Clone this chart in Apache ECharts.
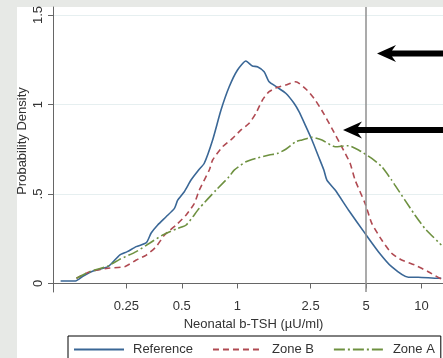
<!DOCTYPE html>
<html>
<head>
<meta charset="utf-8">
<script src="https://cdn.jsdelivr.net/npm/echarts@6/dist/echarts.min.js"></script>
<style>
html,body{margin:0;padding:0;background:#e7e9e6;}
#chart{width:443px;height:358px;}
</style>
</head>
<body>
<div id="chart"></div>
<script>
// Data (x = neonatal b-TSH µU/ml, y = density)
var xTicks = [0.25, 0.5, 1, 2.5, 5, 10];
var yTicks = [0, 0.5, 1, 1.5];
var cutoff = 5;

var referenceData = [
  [0.110,0.014],[0.1325,0.014],[0.146,0.042],[0.165,0.070],[0.199,0.094],[0.230,0.159],
  [0.253,0.178],[0.283,0.206],[0.321,0.228],[0.341,0.282],[0.370,0.327],[0.411,0.373],
  [0.456,0.420],[0.475,0.466],[0.516,0.513],[0.561,0.578],[0.617,0.634],[0.662,0.672],
  [0.735,0.802],[0.816,0.969],[0.904,1.099],[1.003,1.193],[1.114,1.243],[1.208,1.215],
  [1.286,1.211],[1.399,1.183],[1.489,1.127],[1.651,1.096],[1.833,1.063],[2.032,1.007],
  [2.163,0.960],[2.339,0.885],[2.543,0.802],[2.763,0.708],[2.95,0.634],[3.064,0.578],
  [3.398,0.522],[4.012,0.411],[4.935,0.280],[5.83,0.178],[6.88,0.094],[8.48,0.035],
  [9.59,0.035],[12.31,0.029],[12.8,0.029]
];
var zoneBData = [
  [0.134,0.029],[0.158,0.066],[0.199,0.085],[0.245,0.094],[0.283,0.131],[0.321,0.159],
  [0.363,0.206],[0.403,0.271],[0.466,0.327],[0.528,0.383],[0.585,0.448],[0.622,0.522],
  [0.705,0.634],[0.735,0.690],[0.832,0.764],[0.942,0.811],[1.047,0.858],[1.16,0.895],
  [1.262,0.951],[1.369,1.025],[1.489,1.072],[1.651,1.096],[1.833,1.109],[2.075,1.127],
  [2.388,1.081],[2.649,1.025],[2.94,0.951],[3.26,0.867],[3.69,0.764],[4.095,0.672],
  [4.36,0.578],[4.935,0.448],[5.37,0.336],[6.08,0.243],[6.88,0.169],[7.80,0.131],
  [9.20,0.103],[10.87,0.066],[12.56,0.029],[12.8,0.027]
];
var zoneAData = [
  [0.134,0.029],[0.158,0.066],[0.199,0.098],[0.230,0.135],[0.283,0.178],[0.334,0.225],
  [0.394,0.271],[0.475,0.308],[0.528,0.327],[0.622,0.420],[0.767,0.522],[0.904,0.597],
  [0.962,0.634],[1.114,0.680],[1.262,0.699],[1.489,0.718],[1.651,0.727],[1.833,0.750],
  [2.075,0.792],[2.244,0.802],[2.543,0.817],[2.88,0.802],[3.398,0.764],[4.012,0.770],
  [4.55,0.746],[5.37,0.699],[6.08,0.653],[6.88,0.578],[7.17,0.550],[8.12,0.466],
  [9.20,0.383],[10.42,0.308],[12.8,0.215]
];
var seriesNames = ['Reference', 'Zone B', 'Zone A'];

var FONT = 'Liberation Sans, Arial, sans-serif';
var chart = echarts.init(document.getElementById('chart'), null, {renderer: 'canvas'});

function fmtX(v){ return String(+Number(v).toPrecision(3)); }
function fmtY(v){ v = +Number(v).toFixed(2); if (v === 0) return '0'; var s = String(v); return s.charAt(0) === '0' ? s.slice(1) : s; }

var option = {
  animation: false,
  backgroundColor: '#e7e9e6',
  textStyle: {fontFamily: FONT},
  graphic: [
    {type: 'rect', z: -10, silent: true, shape: {x: 17, y: 7, width: 430, height: 355}, style: {fill: '#ffffff'}},
    {type: 'polygon', z: 100, silent: true, shape: {points: [[377,53.5],[396,45],[392,50.5],[447,50.5],[447,56.5],[392,56.5],[396,62]]}, style: {fill: '#000'}},
    {type: 'polygon', z: 100, silent: true, shape: {points: [[343,130],[362,121.5],[358,127],[447,127],[447,133],[358,133],[362,138.5]]}, style: {fill: '#000'}}
  ],
  grid: {left: 53, width: 401, top: 7, bottom: 66, containLabel: false, outerBoundsMode: 'none'},
  xAxis: {
    type: 'log', logBase: 10, min: 0.1, max: 15,
    name: 'Neonatal b-TSH (µU/ml)', nameLocation: 'middle', nameGap: 23,
    nameTextStyle: {fontSize: 13, color: '#333', fontFamily: FONT},
    axisLine: {lineStyle: {color: '#666', width: 1}},
    axisTick: {show: true, length: 5, inside: false, customValues: xTicks, lineStyle: {color: '#666'}},
    minorTick: {show: false},
    axisLabel: {customValues: xTicks, formatter: fmtX, fontSize: 13, color: '#333', margin: 8, fontFamily: FONT},
    splitLine: {show: false}
  },
  yAxis: {
    type: 'value', min: -0.0475, max: 1.545,
    name: 'Probability Density', nameLocation: 'middle', nameGap: 24, nameMoveOverlap: false,
    nameTextStyle: {fontSize: 13, color: '#333', fontFamily: FONT, padding: [0, 0, 0, 17]},
    axisLine: {show: true, lineStyle: {color: '#666', width: 1}},
    axisTick: {show: true, length: 5, customValues: yTicks, lineStyle: {color: '#666'}},
    axisLabel: {customValues: yTicks, formatter: fmtY, rotate: 90, fontSize: 13, color: '#333', margin: 8, fontFamily: FONT},
    splitLine: {show: true, lineStyle: {color: '#e6eff0', width: 1}}
  },
  legend: {
    data: seriesNames,
    left: 68, top: 336, width: 420,
    padding: [7, 6, 7, 5],
    itemGap: 19, itemWidth: 50, itemHeight: 14,
    itemStyle: {opacity: 0},
    borderColor: '#000', borderWidth: 1, borderRadius: 0,
    backgroundColor: '#fff',
    textStyle: {fontSize: 13, color: '#333', fontFamily: FONT, padding: [0, 0, 0, 4]}
  },
  series: [
    {
      name: seriesNames[0], type: 'line', data: referenceData, showSymbol: false, symbol: 'none', smooth: 0.2,
      lineStyle: {color: '#3a6796', width: 1.6, type: 'solid'}, itemStyle: {color: '#3a6796'},
      markLine: {
        silent: true, symbol: 'none', label: {show: false},
        lineStyle: {color: '#8f8f8f', width: 1.5, type: 'solid'},
        data: [{xAxis: cutoff}]
      }
    },
    {
      name: seriesNames[1], type: 'line', data: zoneBData, showSymbol: false, symbol: 'none', smooth: 0.2,
      lineStyle: {color: '#b04a52', width: 1.6, type: [6, 4]}, itemStyle: {color: '#b04a52'}
    },
    {
      name: seriesNames[2], type: 'line', data: zoneAData, showSymbol: false, symbol: 'none', smooth: 0.2,
      lineStyle: {color: '#6e9140', width: 1.6, type: [11, 3, 2, 3]}, itemStyle: {color: '#6e9140'}
    }
  ]
};
chart.setOption(option);
</script>
</body>
</html>
